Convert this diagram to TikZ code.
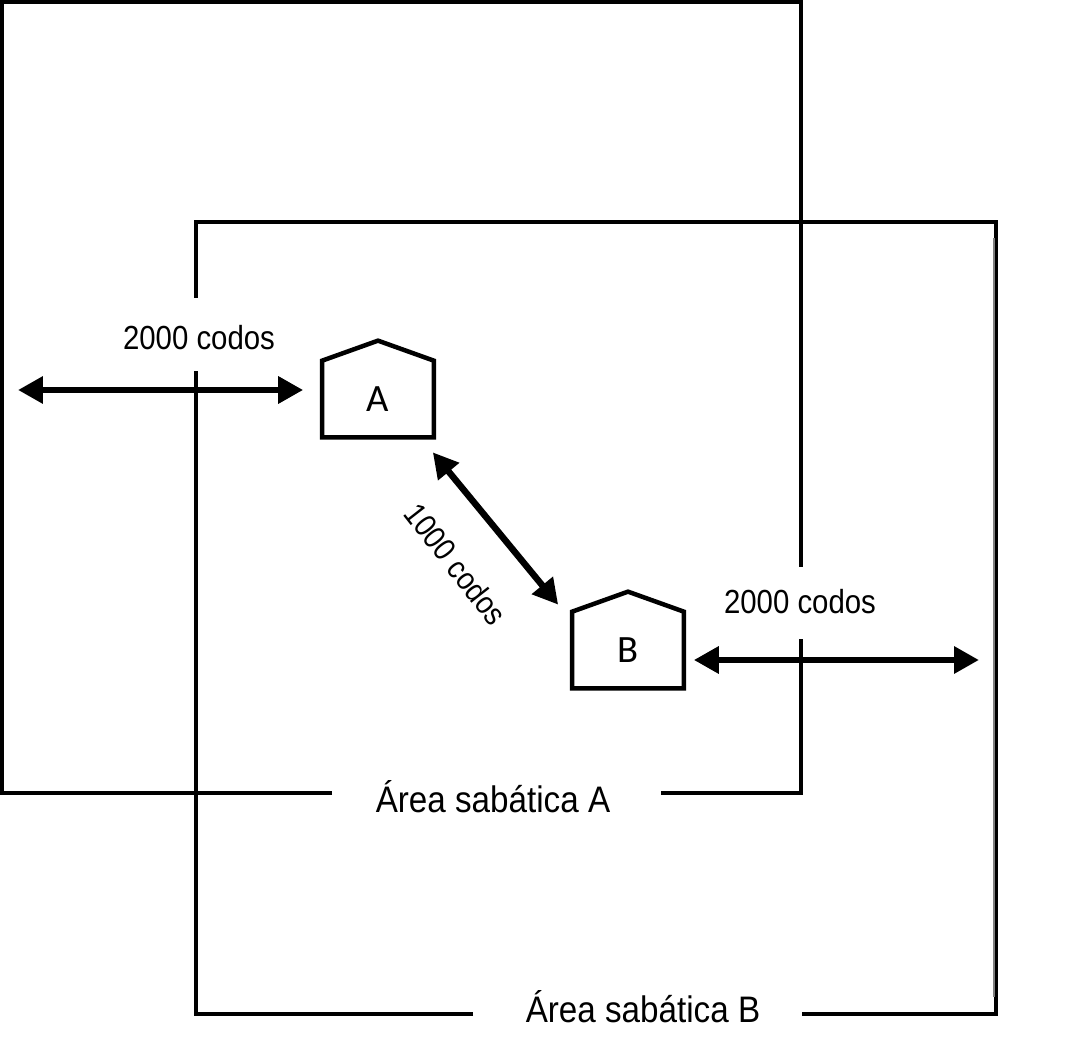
\documentclass[tikz,border=0pt]{standalone}
\usepackage{fontspec}
\setmainfont{Liberation Sans}
\newfontfamily\housefont{Carlito}
\newfontfamily\spanfont[FakeStretch=0.88]{Liberation Sans}
\newfontfamily\areafont[FakeStretch=0.9]{Liberation Sans}
\usetikzlibrary{arrows.meta, calc}
\definecolor{edgegray}{HTML}{808080}

\tikzset{
  arealine/.style={black, line width=0.095cm, line join=miter},
  housebox/.style={minimum width=2.22cm, minimum height=1.52cm, inner sep=0pt, font=\fontsize{22}{22}\selectfont\housefont},
  houseline/.style={black, line width=0.09cm, line join=miter},
  spanarrow/.style={{Triangle[length=0.5cm,width=0.52cm]}-{Triangle[length=0.5cm,width=0.52cm]}, black, line width=0.13cm},
  spanlabel/.style={font=\fontsize{19}{19}\selectfont\spanfont, inner sep=0pt},
  arealabel/.style={font=\fontsize{21}{21}\selectfont\areafont, anchor=base, inner sep=0pt}
}

\begin{document}
\begin{tikzpicture}[x=0.02cm, y=-0.02cm]
  \useasboundingbox (0,0) rectangle (1073,1044);

  % Area A outline, open at its label and at the span label
  \draw[arealine] (332,793) -- (2,793) -- (2,2) -- (801,2) -- (801,567);
  \draw[arealine] (801,639) -- (801,793) -- (661,793);

  % Area B outline
  \draw[arealine] (196,298) -- (196,222) -- (996,222) -- (996,1014) -- (802,1014);
  \draw[arealine] (473,1014) -- (196,1014) -- (196,371);
  \draw[edgegray, line width=0.04cm] (994,238) -- (994,997);

  % Houses
  \node[housebox] (houseA) at (378,399) {A};
  \node[housebox] (houseB) at (628,650) {B};
  \foreach \h in {houseA, houseB} {
    \draw[houseline] (\h.north west) -- ($(\h.north west)!0.5!(\h.north east)+(0,-20)$)
      -- (\h.north east) -- (\h.south east) -- (\h.south west) -- cycle;
  }

  % Span arrows
  \coordinate (outerA) at (18,390);
  \coordinate (innerA) at ($(houseA.west)+(-19,-9)$);
  \coordinate (innerB) at ($(houseB.east)+(10,10)$);
  \coordinate (outerB) at (979,660);
  \coordinate (tipA) at ($(houseA.south east)+(-1,15)$);
  \coordinate (tipB) at ($(houseB.north west)+(-14,-7)$);
  \draw[spanarrow] (outerA) -- (innerA);
  \draw[spanarrow] (innerB) -- (outerB);
  \draw[spanarrow] (tipA) -- (tipB);

  % Labels
  \node[spanlabel, anchor=base] (spanA) at (199,350) {2000 codos};
  \node[spanlabel, anchor=base] (spanB) at (800,614) {2000 codos};
  \node[spanlabel, font=\fontsize{18}{18}\selectfont\spanfont, rotate=-52] (spanAB) at (456,564) {1000 codos};
  \node[arealabel] (areaA) at (493,812) {Área sabática A};
  \node[arealabel] (areaB) at (643,1022) {Área sabática B};
\end{tikzpicture}
\end{document}
